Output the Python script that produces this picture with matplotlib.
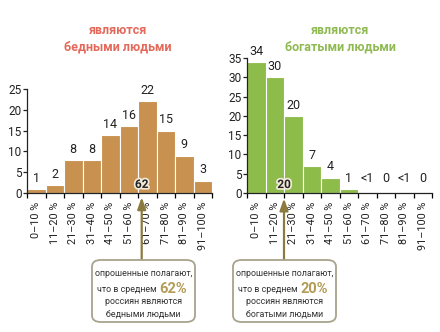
import matplotlib
matplotlib.use("Agg")
import matplotlib.pyplot as plt
from matplotlib.patches import FancyBboxPatch
import matplotlib.patheffects as pe
import numpy as np

plt.rcParams['font.family'] = ['Roboto', 'DejaVu Sans']

# data
categories = ['0–10 %', '11–20 %', '21–30 %', '31–40 %', '41–50 %',
              '51–60 %', '61–70 %', '71–80 %', '81–90 %', '91–100 %']
poor_values = [1, 2, 8, 8, 14, 16, 22, 15, 9, 3]
poor_labels = ['1', '2', '8', '8', '14', '16', '22', '15', '9', '3']
rich_values = [34, 30, 20, 7, 4, 1, 0.3, 0, 0.3, 0]
rich_labels = ['34', '30', '20', '7', '4', '1', '<1', '0', '<1', '0']
poor_mean = 62
rich_mean = 20

poor_color = '#c8914f'
rich_color = '#8ebc4b'
arrow_color = '#8c7b3e'
box_edge = '#a8a38c'
mean_color = '#b39c55'

W, H = 440, 332
fig = plt.figure(figsize=(W / 100, H / 100), dpi=100)


def px(x0, y_top, w, h):
    # pixel box -> figure fraction rect
    return [x0 / W, 1 - (y_top + h) / H, w / W, h / H]


def draw_panel(rect, values, labels, ymax, color, title_x, title, title_color,
               mean, box_x, line1, line3, line4):
    ax = fig.add_axes(rect)
    centers = np.arange(5, 100, 10)
    ax.bar(centers, values, width=10, color=color, edgecolor='white', linewidth=0.8)
    ax.set_xlim(0, 100)
    ax.set_ylim(0, ymax)
    ax.set_yticks(np.arange(0, ymax + 1, 5))
    ax.set_xticks(np.arange(0, 101, 10))
    ax.set_xticklabels([])
    ax.set_xticks(centers, minor=True)
    ax.set_xticklabels(categories, minor=True, rotation=90, fontsize=7.8, color='#222222')
    ax.tick_params(axis='x', which='major', length=3.5, width=0.9, direction='out')
    ax.tick_params(axis='x', which='minor', length=0, pad=6)
    ax.tick_params(axis='y', length=3, width=0.9, labelsize=8.5, pad=1, colors='#222222')
    for s in ['top', 'right']:
        ax.spines[s].set_visible(False)
    for s in ['left', 'bottom']:
        ax.spines[s].set_linewidth(0.9)
        ax.spines[s].set_color('#222222')

    for c, v, lab in zip(centers, values, labels):
        ax.annotate(lab, (c, max(v, 1)), xytext=(0, 3), textcoords='offset points',
                    ha='center', va='bottom', fontsize=9, color='#222222',
                    annotation_clip=False)

    # mean marker label and arrow
    ax.text(mean, 0.5, str(mean), ha='center', va='bottom', fontsize=8.5,
            fontweight='bold', color='#222222',
            path_effects=[pe.withStroke(linewidth=2.5, foreground='#f2ead8')])
    box_top = 1 - 260 / H
    ax.annotate('', xy=(mean, -ymax * 0.04), xycoords='data',
                xytext=(mean, box_top), textcoords=('data', 'figure fraction'),
                arrowprops=dict(arrowstyle='-|>,head_length=0.7,head_width=0.25',
                                color=arrow_color, lw=1.6, shrinkA=0, shrinkB=0),
                annotation_clip=False)

    # title
    fig.text(title_x, 1 - 39 / H, title, ha='center', va='center',
             fontsize=9, fontweight='bold', color=title_color, linespacing=1.3)

    # callout box
    bw, bh = 103, 62
    box = FancyBboxPatch((box_x / W, 1 - (260 + bh) / H), bw / W, bh / H,
                         boxstyle='round,pad=0,rounding_size=0.02',
                         transform=fig.transFigure, facecolor='white',
                         edgecolor=box_edge, linewidth=1.3)
    fig.patches.append(box)
    bc = (box_x + bw / 2) / W
    fs = 6.4
    fig.text(bc, 1 - 274 / H, line1, ha='center', va='center', fontsize=fs, color='#333333')
    fig.text(bc + 15 / W, 1 - 289 / H, 'что в среднем ', ha='right', va='center',
             fontsize=fs, color='#333333')
    fig.text(bc + 16 / W, 1 - 289 / H, f'{mean}%', ha='left', va='center',
             fontsize=10.5, fontweight='bold', color=mean_color)
    fig.text(bc, 1 - 302 / H, line3, ha='center', va='center', fontsize=fs, color='#333333')
    fig.text(bc, 1 - 314 / H, line4, ha='center', va='center', fontsize=fs, color='#333333')
    return ax


draw_panel(px(27, 89, 185, 104), poor_values, poor_labels, 25, poor_color,
           118 / W, 'являются\nбедными людьми', '#e4695a', poor_mean, 92,
           'опрошенные полагают,', 'россиян являются', 'бедными людьми')
draw_panel(px(247, 58, 185, 135), rich_values, rich_labels, 35, rich_color,
           340 / W, 'являются\nбогатыми людьми', '#8fba52', rich_mean, 233,
           'опрошенные полагают,', 'россиян являются', 'богатыми людьми')

fig.savefig('out.png', dpi=100)
